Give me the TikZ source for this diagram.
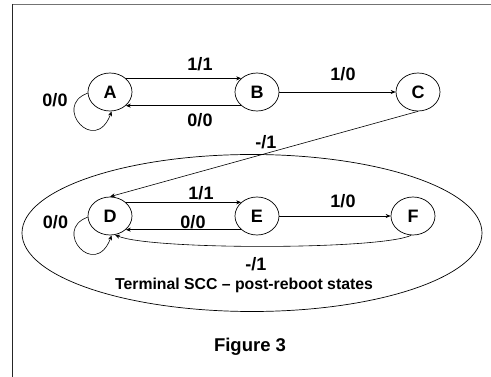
\documentclass[tikz,border=0pt]{standalone}
\usepackage{fontspec}
\setmainfont{Liberation Sans}
\usetikzlibrary{shapes.geometric,arrows.meta}
\begin{document}
\begin{tikzpicture}[x=1pt,y=-1pt,
  font=\fontsize{18}{21}\selectfont\bfseries,
  st/.style={draw,ellipse,minimum width=44pt,minimum height=38pt,inner sep=0pt,line width=0.7pt},
  tr/.style={draw,line width=0.6pt,-{Stealth[length=5pt,width=4pt]}},
  lbl/.style={inner sep=0pt}]
\useasboundingbox (0,0) rectangle (491,377);
\draw[line width=1.4pt,black!55] (12,4.5) -- (491,4.5);
\draw[line width=1.3pt,black!85] (12.5,4) -- (12.5,377);
% terminal SCC ellipse
\node[draw,ellipse,minimum width=460pt,minimum height=157pt,line width=0.7pt] (scc) at (252,233) {};
% states
\node[st] (A) at (110,92) {A};
\node[st] (B) at (257,92) {B};
\node[st] (C) at (418,92) {C};
\node[st] (D) at (110,216) {D};
\node[st] (E) at (257,216) {E};
\node[st] (F) at (413,216) {F};
% transitions
\draw[tr] (A.north east) -- (B.north west);
\draw[tr] (B.south west) -- (A.south east);
\draw[tr] (B.east) -- (C.west);
\draw[tr] (C.south) -- (D.north);
\draw[tr] (A.183) .. controls (52,106) and (95,156) .. (A.-85);
\draw[tr] (D.north east) -- (E.north west);
\draw[tr] (E.south west) -- (D.south east);
\draw[tr] (E.east) -- (F.west);
\draw[tr] (D.183) .. controls (52,230) and (95,280) .. (D.-85);
\draw[tr] (F.-95) .. controls (380,250) and (150,250) .. (D.-75);
% labels
\node[lbl] (l1) at (55,100) {0/0};
\node[lbl] (l2) at (200,64) {1/1};
\node[lbl] (l3) at (200,120) {0/0};
\node[lbl] (l4) at (343,74) {1/0};
\node[lbl] (l5) at (266,142) {-/1};
\node[lbl] (l6) at (55.5,222) {0/0};
\node[lbl] (l7) at (201,193) {1/1};
\node[lbl] (l8) at (193,222) {0/0};
\node[lbl] (l9) at (343,201) {1/0};
\node[lbl] (l10) at (256,264) {-/1};
\node[lbl,font=\fontsize{15.8}{18}\selectfont\bfseries] (t) at (244,285) {Terminal SCC – post-reboot states};
\node[lbl,font=\fontsize{18.5}{22}\selectfont\bfseries] (fig) at (250,347) {Figure 3};
\end{tikzpicture}
\end{document}
